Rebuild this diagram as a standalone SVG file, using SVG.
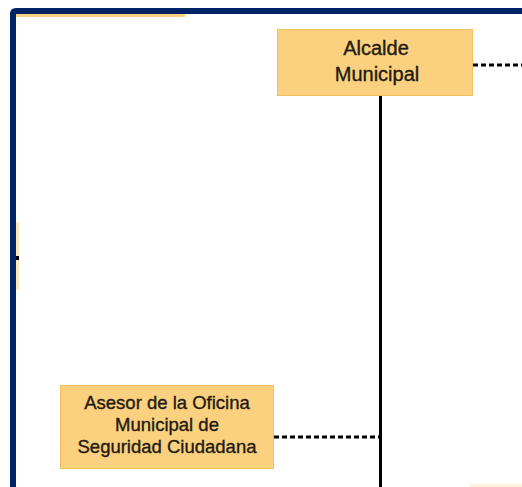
<svg xmlns="http://www.w3.org/2000/svg" width="522" height="487" viewBox="0 0 522 487">
<style>
.box{fill:#fbd07e;stroke:#f0c060;stroke-width:1}
.t{font-family:"Liberation Sans",Arial,sans-serif;fill:#231a12;stroke:#231a12;stroke-width:0.35;text-anchor:middle}
.solid{stroke:#000;stroke-width:3;fill:none}
.dash{stroke:#000;stroke-width:3;fill:none;stroke-dasharray:5 3}
</style>
<rect x="0" y="0" width="522" height="487" fill="#fff"/>
<g id="frame">
<path d="M10 487 V14 Q10 8 16 8 H522 V14 H16 V487 Z" fill="#002366"/>
<rect x="16" y="14" width="169" height="3" fill="#fbd07e"/>
<rect x="16" y="222" width="3" height="68" fill="#fbe7b8"/>
<rect x="16" y="256" width="3" height="4" fill="#000"/>
<rect x="470" y="484" width="52" height="3" fill="#fdf3dc"/>
</g>
<g id="connectors">
<line class="solid" x1="380.5" y1="96" x2="380.5" y2="487"/>
<line class="dash" x1="473" y1="65" x2="522" y2="65"/>
<line class="dash" x1="274" y1="437" x2="379" y2="437"/>
</g>
<g id="alcalde">
<rect class="box" x="277.5" y="29.5" width="195" height="66"/>
<text class="t" x="376" y="55" font-size="20">Alcalde</text>
<text class="t" x="377" y="81" font-size="20">Municipal</text>
</g>
<g id="asesor">
<rect class="box" x="60.5" y="385.5" width="213" height="83"/>
<text class="t" x="167" y="409" font-size="18.5">Asesor de la Oficina</text>
<text class="t" x="167" y="431" font-size="18.5">Municipal de</text>
<text class="t" x="167" y="453" font-size="18.5">Seguridad Ciudadana</text>
</g>
</svg>
